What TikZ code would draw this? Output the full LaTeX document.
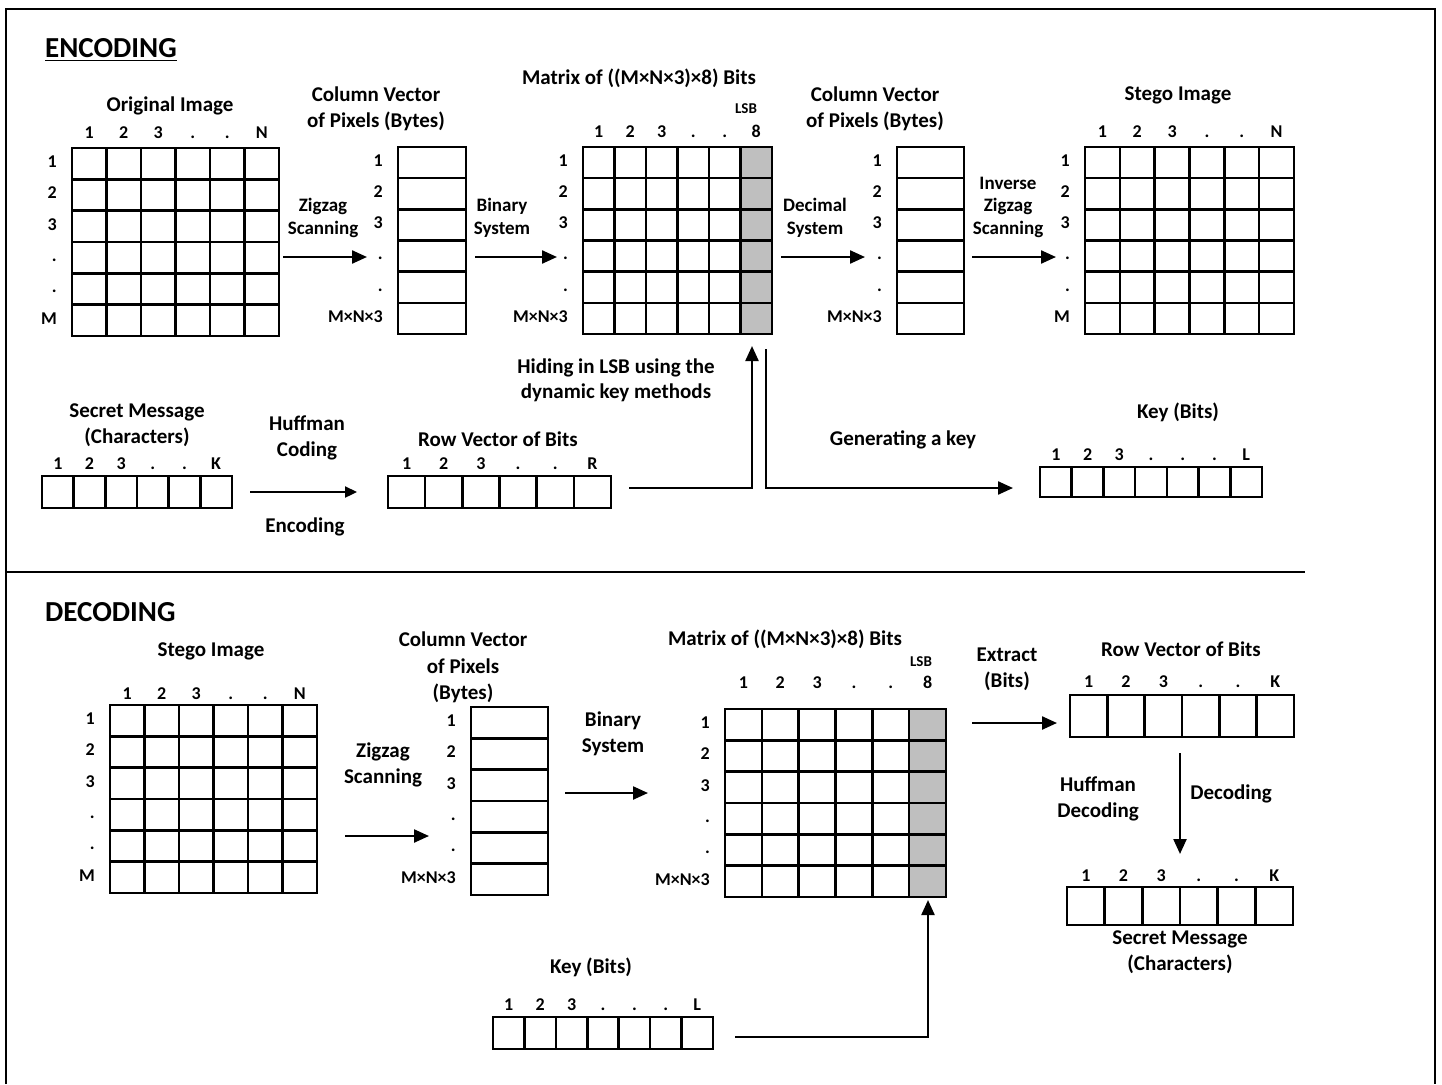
\documentclass[tikz,border=0pt]{standalone}
\usepackage{fontspec}
\setmainfont{Carlito}
\usetikzlibrary{arrows.meta,calc}
\definecolor{lsbgray}{RGB}{191,191,191}
\tikzset{
  head/.style={font=\fontsize{29}{34}\selectfont\bfseries, anchor=base west, inner sep=0pt},
  ttl/.style={font=\fontsize{21}{26}\selectfont\bfseries, align=center, inner sep=0pt},
  lbl/.style={font=\fontsize{19}{22.5}\selectfont\bfseries, align=center, inner sep=0pt},
  idx/.style={font=\fontsize{18}{21}\selectfont\bfseries, inner sep=0pt, text height=11.5pt, text depth=0pt},
  lsb/.style={font=\fontsize{15}{17}\selectfont\bfseries, inner sep=0pt},
  cellblock/.style={anchor=north west, inner sep=0pt, outer sep=0pt},
  cellline/.style={line width=2.6pt},
  arr/.style={-{Triangle[length=15pt,width=13pt]}, line width=2.3pt},
  frame/.style={line width=2pt},
}
% grid lines of a cell block: name, columns, rows
\newcommand{\cellgrid}[3]{%
  \foreach \i in {1,...,#2}{\ifnum\i<#2\relax
    \draw[cellline] ($(#1.north west)!{\i/#2}!(#1.north east)$) -- ($(#1.south west)!{\i/#2}!(#1.south east)$);\fi}
  \foreach \j in {1,...,#3}{\ifnum\j<#3\relax
    \draw[cellline] ($(#1.north west)!{\j/#3}!(#1.south west)$) -- ($(#1.north east)!{\j/#3}!(#1.south east)$);\fi}
  \draw[cellline] (#1.north west) rectangle (#1.south east);
}
% indices above the columns: name, columns, gap, labels
\newcommand{\colnums}[4]{%
  \foreach \t [count=\k] in {#4}
    \node[idx, anchor=base] (#1-c\k) at ($(#1.north west)!{(\k-0.5)/#2}!(#1.north east)+(0,-#3)$) {\t};
}
% indices left of the rows: name, rows, labels
\newcommand{\rownums}[3]{%
  \foreach \t [count=\k] in {#3}
    \node[idx, anchor=east] (#1-r\k) at ($(#1.north west)!{(\k-0.5)/#2}!(#1.south west)+(-15,-2)$) {\t};
}
\begin{document}
\begin{tikzpicture}[x=1pt, y=-1pt]
  \useasboundingbox (0,0) rectangle (1442,1084);

  % frame and separator
  \draw[frame] (6,1084) -- (6,9) -- (1435,9) -- (1435,1084);
  \draw[frame] (6,572) -- (1305,572);

  % ---------------- encoding ----------------
  \node[head] (enchead) at (45,57.5) {ENCODING};
  \draw[line width=1.8pt] ($(enchead.base west)+(0,3)$) -- ($(enchead.base east)+(0,3)$);

  \node[cellblock, minimum width=207pt, minimum height=188pt] (orig) at (72,148) {};
  \node[cellblock, minimum width=68pt, minimum height=187pt] (colA) at (398,147) {};
  \node[cellblock, minimum width=189pt, minimum height=187pt] (bitsA) at (583,147) {};
  \node[cellblock, minimum width=67pt, minimum height=187pt] (colB) at (897,147) {};
  \node[cellblock, minimum width=209pt, minimum height=187pt] (stegoA) at (1085,147) {};
  \node[cellblock, minimum width=190pt, minimum height=32pt] (secretA) at (42,476) {};
  \node[cellblock, minimum width=223pt, minimum height=32pt] (rowA) at (388,476) {};
  \node[cellblock, minimum width=222pt, minimum height=30pt] (keyA) at (1040,467) {};

  \fill[lsbgray] ($(bitsA.north west)!{5/6}!(bitsA.north east)$) rectangle (bitsA.south east);
  \cellgrid{orig}{6}{6}
  \cellgrid{colA}{1}{6}
  \cellgrid{bitsA}{6}{6}
  \cellgrid{colB}{1}{6}
  \cellgrid{stegoA}{6}{6}
  \cellgrid{secretA}{6}{1}
  \cellgrid{rowA}{6}{1}
  \cellgrid{keyA}{7}{1}

  \colnums{orig}{6}{9.5}{1,2,3,.,.,N}
  \rownums{orig}{6}{1,2,3,.,.,M}
  \rownums{colA}{6}{1,2,3,.,.,M×N×3}
  \colnums{bitsA}{6}{9.5}{1,2,3,.,.,8}
  \rownums{bitsA}{6}{1,2,3,.,.,M×N×3}
  \rownums{colB}{6}{1,2,3,.,.,M×N×3}
  \colnums{stegoA}{6}{10}{1,2,3,.,.,N}
  \rownums{stegoA}{6}{1,2,3,.,.,M}
  \colnums{secretA}{6}{6.5}{1,2,3,.,.,K}
  \colnums{rowA}{6}{6.5}{1,2,3,.,.,R}
  \colnums{keyA}{7}{6.5}{1,2,3,.,.,.,L}

  \node[ttl] (origttl) at (170,106) {Original Image};
  \node[ttl] (colAttl) at (376,108.5) {Column Vector\\of Pixels (Bytes)};
  \node[ttl] (bitsAttl) at (639,78) {Matrix of ((M×N×3)×8) Bits};
  \node[lsb] (lsbA) at (746,109) {LSB};
  \node[ttl] (colBttl) at (875,108.5) {Column Vector\\of Pixels (Bytes)};
  \node[ttl] (stegoAttl) at (1178,95) {Stego Image};
  \node[ttl] (secretAttl) at (137,425.5) {Secret Message\\(Characters)};
  \node[ttl] (rowAttl) at (498,439) {Row Vector of Bits};
  \node[ttl] (keyAttl) at (1178,412) {Key (Bits)};

  \node[lbl] (zzAlbl) at (323,218) {Zigzag\\Scanning};
  \node[lbl] (binAlbl) at (502,218) {Binary\\System};
  \node[lbl] (decAlbl) at (815,218) {Decimal\\System};
  \node[lbl] (invlbl) at (1008,207) {Inverse\\Zigzag\\Scanning};
  \node[ttl] (hufflbl) at (307,438) {Huffman\\Coding};
  \node[ttl] (enclbl) at (305,527) {Encoding};
  \node[ttl, font=\fontsize{21}{25}\selectfont\bfseries] (hidelbl) at (616,380.5) {Hiding in LSB using the\\dynamic key methods};
  \node[ttl] (genlbl) at (903,440) {Generating a key};

  \draw[arr] ($(orig.east)+(4,15)$) -- ($(colA.west)+(-31,16.5)$);
  \draw[arr] ($(colA.east)+(9,16.5)$) -- ($(bitsA.west)+(-26,16.5)$);
  \draw[arr] ($(bitsA.east)+(9,16.5)$) -- ($(colB.west)+(-32,16.5)$);
  \draw[arr] ($(colB.east)+(8,16.5)$) -- ($(stegoA.west)+(-29,16.5)$);
  \draw[arr, -{Triangle[length=12pt,width=11pt]}] ($(secretA.east)+(18,0)$) -- ($(rowA.west)+(-31,0)$);
  \draw[arr] ($(rowA.east)+(18,-4)$) -| ($(bitsA.south east)+(-20,12)$);
  \draw[arr] ($(bitsA.south east)+(-6,15)$) |- ($(keyA.west)+(-27,6)$);

  % ---------------- decoding ----------------
  \node[head] (dechead) at (45,621.5) {DECODING};

  \node[cellblock, minimum width=207pt, minimum height=188pt] (stegoB) at (110,705) {};
  \node[cellblock, minimum width=77pt, minimum height=188pt] (colC) at (471,707) {};
  \node[cellblock, minimum width=221pt, minimum height=188pt] (bitsB) at (725,709) {};
  \node[cellblock, minimum width=224pt, minimum height=42pt] (rowB) at (1070,695) {};
  \node[cellblock, minimum width=226pt, minimum height=38pt] (secretB) at (1067,887) {};
  \node[cellblock, minimum width=220pt, minimum height=32pt] (keyB) at (493,1017) {};

  \fill[lsbgray] ($(bitsB.north west)!{5/6}!(bitsB.north east)$) rectangle (bitsB.south east);
  \cellgrid{stegoB}{6}{6}
  \cellgrid{colC}{1}{6}
  \cellgrid{bitsB}{6}{6}
  \cellgrid{rowB}{6}{1}
  \cellgrid{secretB}{6}{1}
  \cellgrid{keyB}{7}{1}

  \colnums{stegoB}{6}{5.5}{1,2,3,.,.,N}
  \rownums{stegoB}{6}{1,2,3,.,.,M}
  \rownums{colC}{6}{1,2,3,.,.,M×N×3}
  \colnums{bitsB}{6}{20.5}{1,2,3,.,.,8}
  \rownums{bitsB}{6}{1,2,3,.,.,M×N×3}
  \colnums{rowB}{6}{7.5}{1,2,3,.,.,K}
  \colnums{secretB}{6}{5.5}{1,2,3,.,.,K}
  \colnums{keyB}{7}{6.5}{1,2,3,.,.,.,L}

  \node[ttl] (stegoBttl) at (211,651) {Stego Image};
  \node[ttl, font=\fontsize{21}{26.5}\selectfont\bfseries] (colCttl) at (463,667.5) {Column Vector\\of Pixels\\(Bytes)};
  \node[ttl] (bitsBttl) at (785,639) {Matrix of ((M×N×3)×8) Bits};
  \node[lsb] (lsbB) at (921,662) {LSB};
  \node[ttl] (rowBttl) at (1181,649) {Row Vector of Bits};
  \node[ttl] (secretBttl) at (1180,952) {Secret Message\\(Characters)};
  \node[ttl] (keyBttl) at (591,967) {Key (Bits)};

  \node[ttl] (zzBlbl) at (383,764.5) {Zigzag\\Scanning};
  \node[ttl] (binBlbl) at (613,734) {Binary\\System};
  \node[ttl] (extlbl) at (1007,669) {Extract\\(Bits)};
  \node[ttl] (huffBlbl) at (1098,799) {Huffman\\Decoding};
  \node[ttl] (declbl) at (1231,794) {Decoding};

  \draw[arr] ($(stegoB.east)+(28,37)$) -- ($(colC.west)+(-42,35)$);
  \draw[arr] ($(colC.east)+(17,-8)$) -- ($(bitsB.west)+(-77,-10)$);
  \draw[arr] ($(bitsB.east)+(26,-80)$) -- ($(rowB.west)+(-13,7)$);
  \draw[arr] ($(rowB.south)+(-2,16)$) -- ($(secretB.north)+(0,-33)$);
  \draw[arr] ($(keyB.east)+(22,4)$) -| ($(bitsB.south east)+(-18,3)$);
\end{tikzpicture}
\end{document}
